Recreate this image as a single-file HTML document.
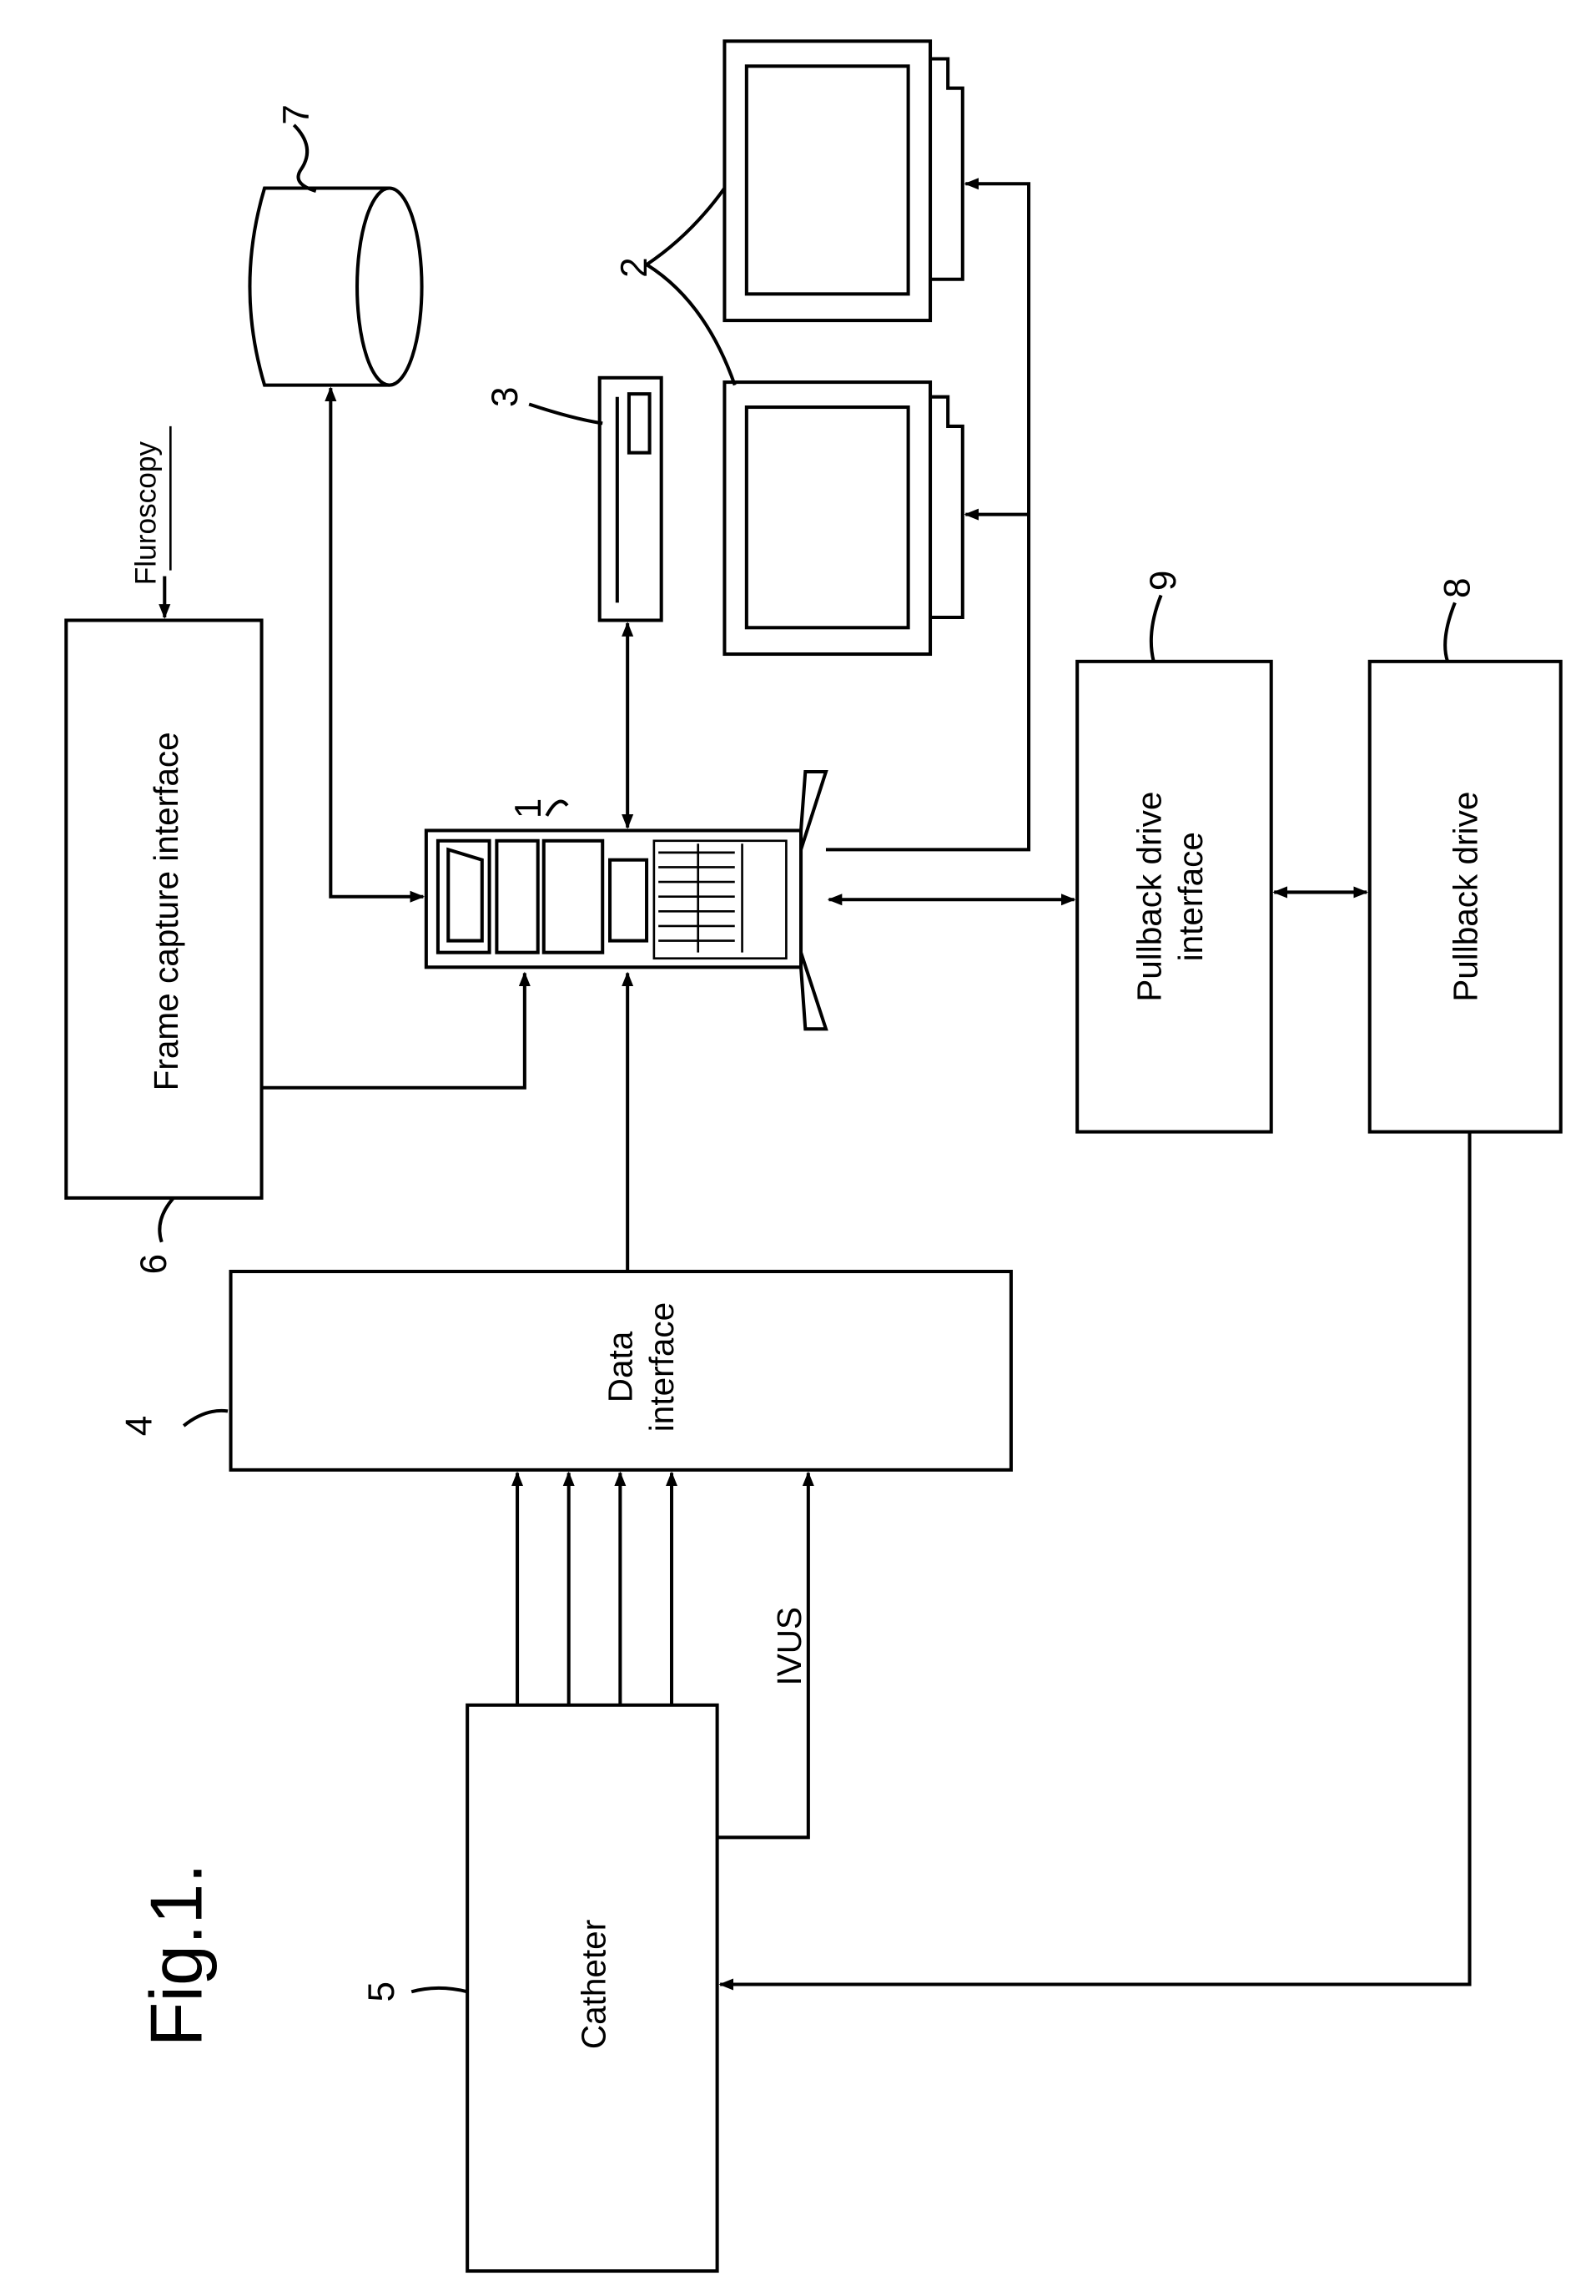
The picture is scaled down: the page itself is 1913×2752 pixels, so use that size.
<!DOCTYPE html>
<html><head><meta charset="utf-8"><style>
html,body{margin:0;padding:0;background:#fff}
svg{display:block}
text{font-family:"Liberation Sans",sans-serif;fill:#000}
</style></head><body>
<svg width="1913" height="2752" viewBox="0 0 1086 1562" preserveAspectRatio="none" xmlns="http://www.w3.org/2000/svg">
<defs>
<marker id="a" markerWidth="10" markerHeight="10" refX="9" refY="5" orient="auto-start-reverse" markerUnits="userSpaceOnUse">
<path d="M0,1 L10,5 L0,9 z" fill="#000"/></marker>
</defs>
<g fill="none" stroke="#000" stroke-width="2.3">
<rect x="45" y="422" width="133" height="393"/>
<rect x="157" y="865" width="531" height="135"/>
<rect x="318" y="1160" width="170" height="385"/>
<rect x="733" y="450" width="132" height="320"/>
<rect x="932" y="450" width="130" height="320"/>
<line x1="112" y1="392" x2="112" y2="420" marker-end="url(#a)"/>
<line x1="116" y1="290" x2="116" y2="388" stroke-width="1.5"/>
<line x1="352" y1="1160" x2="352" y2="1002" marker-end="url(#a)"/>
<line x1="387" y1="1160" x2="387" y2="1002" marker-end="url(#a)"/>
<line x1="422" y1="1160" x2="422" y2="1002" marker-end="url(#a)"/>
<line x1="457" y1="1160" x2="457" y2="1002" marker-end="url(#a)"/>
<polyline points="488,1250 550,1250 550,1002" marker-end="url(#a)"/>
<line x1="427" y1="865" x2="427" y2="662" marker-end="url(#a)"/>
<polyline points="178,740 357,740 357,662" marker-end="url(#a)"/>
<polyline points="225,264 225,610 288,610" marker-start="url(#a)" marker-end="url(#a)"/>
<line x1="427" y1="424" x2="427" y2="563" marker-start="url(#a)" marker-end="url(#a)"/>
<polyline points="562,578 700,578 700,125 657,125" marker-end="url(#a)"/>
<line x1="700" y1="350" x2="657" y2="350" marker-end="url(#a)"/>
<line x1="564" y1="612" x2="731" y2="612" marker-start="url(#a)" marker-end="url(#a)"/>
<line x1="867" y1="607" x2="930" y2="607" marker-start="url(#a)" marker-end="url(#a)"/>
<polyline points="1000,770 1000,1350 490,1350" marker-end="url(#a)"/>
<rect x="290" y="565" width="255" height="93"/>
<path d="M545,565 L548,525 L562,525 L545,578 M545,658 L548,700 L562,700 L545,648"/>
<rect x="298" y="572" width="35" height="76"/>
<path d="M305,578 L328,585 L328,640 L305,640 z"/>
<rect x="338" y="572" width="28" height="76"/>
<rect x="370" y="572" width="40" height="76"/>
<rect x="415" y="585" width="25" height="55"/>
<rect x="445" y="572" width="90" height="80" stroke-width="1.5"/>
<g stroke-width="1.5">
<line x1="448" y1="580" x2="500" y2="580"/><line x1="448" y1="590" x2="500" y2="590"/>
<line x1="448" y1="600" x2="500" y2="600"/><line x1="448" y1="610" x2="500" y2="610"/>
<line x1="448" y1="620" x2="500" y2="620"/><line x1="448" y1="630" x2="500" y2="630"/>
<line x1="448" y1="640" x2="500" y2="640"/><line x1="475" y1="574" x2="475" y2="648"/>
<line x1="505" y1="574" x2="505" y2="648"/>
</g>
<path d="M265,128 L180,128 Q160,195 180,262 L265,262"/>
<ellipse cx="265" cy="195" rx="22" ry="67"/>
<rect x="408" y="257" width="42" height="165"/>
<line x1="420" y1="270" x2="420" y2="410"/>
<rect x="428" y="268" width="14" height="40"/>
<rect x="493" y="28" width="140" height="190"/>
<rect x="508" y="45" width="110" height="155"/>
<path d="M633,40 L645,40 L645,60 L655,60 L655,190 L633,190"/>
<rect x="493" y="260" width="140" height="185"/>
<rect x="508" y="277" width="110" height="150"/>
<path d="M633,270 L645,270 L645,290 L655,290 L655,420 L633,420"/>
<path d="M118,815 Q105,830 110,845"/>
<path d="M125,970 Q140,958 155,960"/>
<path d="M280,1355 Q298,1350 318,1355"/>
<path d="M372,555 Q380,540 386,548"/>
<path d="M200,85 Q215,100 205,115 Q198,125 215,130"/>
<path d="M360,275 Q390,285 410,288"/>
<path d="M440,180 Q470,160 493,128 M440,180 Q480,205 500,262"/>
<path d="M790,405 Q780,430 785,450"/>
<path d="M990,410 Q980,435 985,450"/>
</g>
<g font-size="23">
<text transform="translate(121,620) rotate(-90)" text-anchor="middle">Frame capture interface</text>
<text transform="translate(106,398) rotate(-90)" font-size="20">Fluroscopy</text>
<text transform="translate(430,930) rotate(-90)" text-anchor="middle">Data</text>
<text transform="translate(458,930) rotate(-90)" text-anchor="middle">interface</text>
<text transform="translate(412,1350) rotate(-90)" text-anchor="middle">Catheter</text>
<text transform="translate(545,1120) rotate(-90)" text-anchor="middle">IVUS</text>
<text transform="translate(790,610) rotate(-90)" text-anchor="middle">Pullback drive</text>
<text transform="translate(818,610) rotate(-90)" text-anchor="middle">interface</text>
<text transform="translate(1005,610) rotate(-90)" text-anchor="middle">Pullback drive</text>
<text transform="translate(137,1330) rotate(-90)" text-anchor="middle" font-size="50">Fig.1.</text>
<text transform="translate(113,860) rotate(-90)" text-anchor="middle" font-size="25">6</text>
<text transform="translate(103,970) rotate(-90)" text-anchor="middle" font-size="25">4</text>
<text transform="translate(268,1355) rotate(-90)" text-anchor="middle" font-size="25">5</text>
<text transform="translate(368,550) rotate(-90)" text-anchor="middle" font-size="25">1</text>
<text transform="translate(210,78) rotate(-90)" text-anchor="middle" font-size="25">7</text>
<text transform="translate(352,270) rotate(-90)" text-anchor="middle" font-size="25">3</text>
<text transform="translate(440,182) rotate(-90)" text-anchor="middle" font-size="25">2</text>
<text transform="translate(800,395) rotate(-90)" text-anchor="middle" font-size="25">9</text>
<text transform="translate(1000,400) rotate(-90)" text-anchor="middle" font-size="25">8</text>
</g>
</svg>
</body></html>
